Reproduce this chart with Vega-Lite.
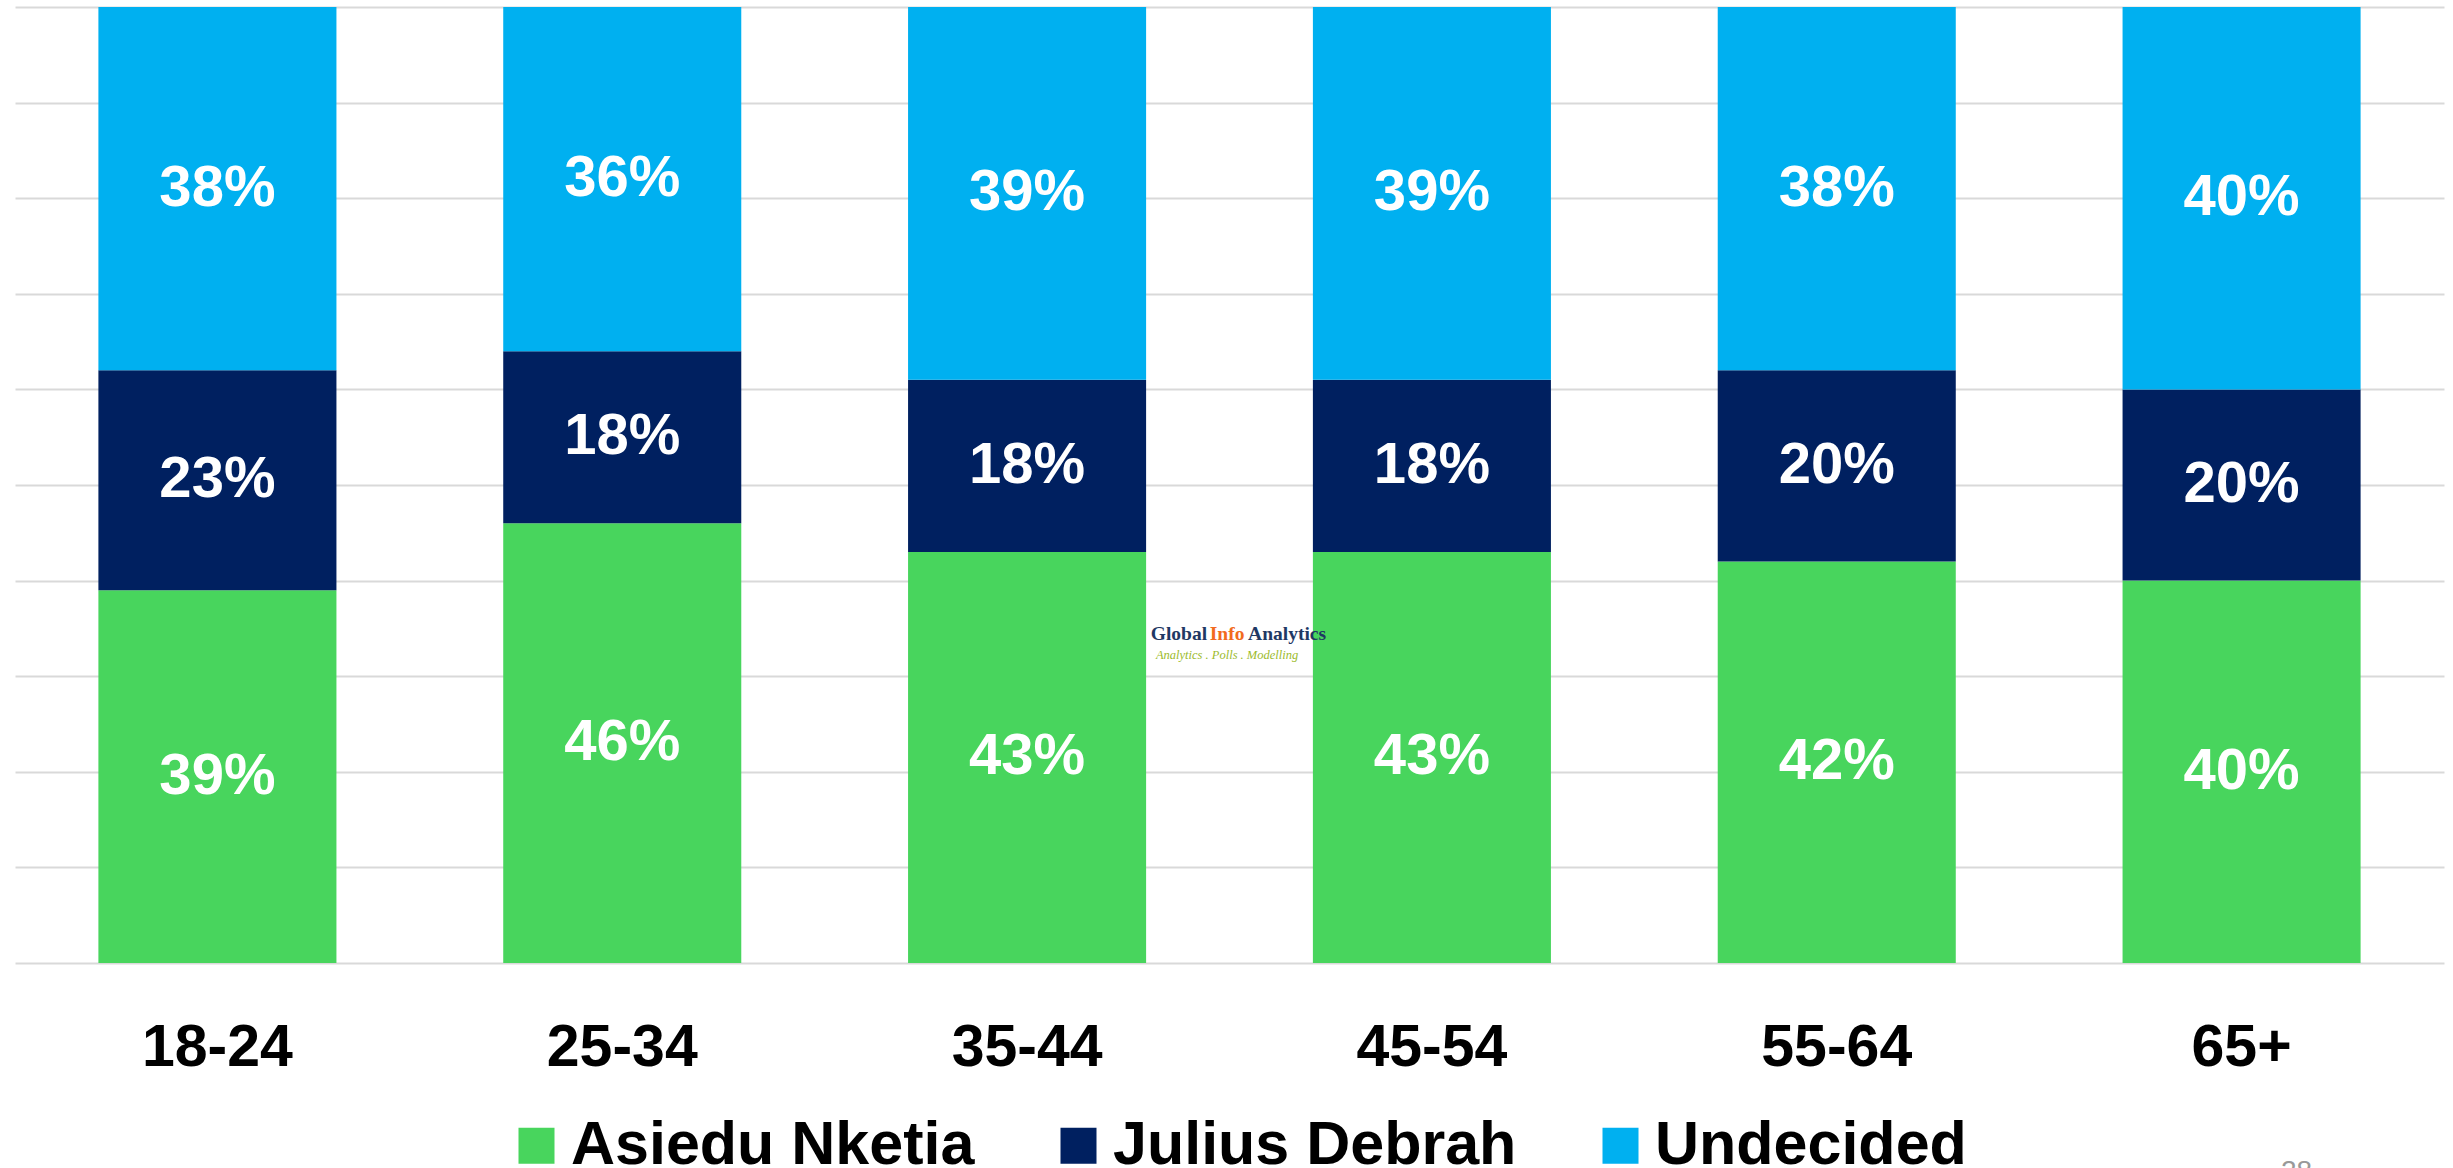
{
  "$schema": "https://vega.github.io/schema/vega-lite/v6.json",
  "width": 2429,
  "height": 956,
  "autosize": {"type": "none"},
  "padding": {"left": 15, "top": 7, "right": 9, "bottom": 205},
  "background": "white",
  "config": {"view": {"stroke": null}, "font": "Liberation Sans"},
  "data": {
    "values": [
      {"age": "18-24", "candidate": "Asiedu Nketia", "share": 0.39},
      {"age": "18-24", "candidate": "Julius Debrah", "share": 0.23},
      {"age": "18-24", "candidate": "Undecided", "share": 0.38},
      {"age": "25-34", "candidate": "Asiedu Nketia", "share": 0.46},
      {"age": "25-34", "candidate": "Julius Debrah", "share": 0.18},
      {"age": "25-34", "candidate": "Undecided", "share": 0.36},
      {"age": "35-44", "candidate": "Asiedu Nketia", "share": 0.43},
      {"age": "35-44", "candidate": "Julius Debrah", "share": 0.18},
      {"age": "35-44", "candidate": "Undecided", "share": 0.39},
      {"age": "45-54", "candidate": "Asiedu Nketia", "share": 0.43},
      {"age": "45-54", "candidate": "Julius Debrah", "share": 0.18},
      {"age": "45-54", "candidate": "Undecided", "share": 0.39},
      {"age": "55-64", "candidate": "Asiedu Nketia", "share": 0.42},
      {"age": "55-64", "candidate": "Julius Debrah", "share": 0.20},
      {"age": "55-64", "candidate": "Undecided", "share": 0.38},
      {"age": "65+", "candidate": "Asiedu Nketia", "share": 0.40},
      {"age": "65+", "candidate": "Julius Debrah", "share": 0.20},
      {"age": "65+", "candidate": "Undecided", "share": 0.40}
    ]
  },
  "layer": [
    {
      "mark": {"type": "bar"},
      "encoding": {
        "x": {
          "field": "age", "type": "nominal", "sort": null,
          "scale": {"paddingInner": 0.412, "paddingOuter": 0.206},
          "axis": {"title": null, "labelAngle": 0, "ticks": false, "domain": false, "labelFontSize": 59, "labelFontWeight": "bold", "labelColor": "black", "labelFont": "Liberation Sans", "labelPadding": 55}
        },
        "y": {
          "field": "share", "type": "quantitative", "stack": "zero",
          "scale": {"domain": [0, 1], "nice": false},
          "axis": {"title": null, "labels": false, "ticks": false, "domain": false, "grid": true, "gridColor": "#D9D9D9", "gridWidth": 2, "values": [0, 0.1, 0.2, 0.3, 0.4, 0.5, 0.6, 0.7, 0.8, 0.9, 1]}
        },
        "order": {"field": "candidate", "type": "nominal", "sort": "ascending"},
        "color": {
          "field": "candidate", "type": "nominal",
          "scale": {"domain": ["Asiedu Nketia", "Julius Debrah", "Undecided"], "range": ["#48D55D", "#002060", "#00B0F0"]},
          "legend": {"orient": "none", "legendX": 491, "legendY": 1108, "direction": "horizontal", "title": null, "symbolType": "square", "symbolSize": 1296, "symbolStrokeWidth": 0, "symbolOpacity": 1, "labelFontSize": 61, "labelFont": "Liberation Sans", "labelFontWeight": "bold", "labelColor": "black", "labelOffset": 4, "columnPadding": 73, "labelLimit": 1000}
        }
      }
    },
    {
      "mark": {"type": "text", "color": "white", "fontSize": 58, "fontWeight": "bold", "font": "Liberation Sans", "baseline": "middle", "align": "center"},
      "encoding": {
        "x": {"field": "age", "type": "nominal", "sort": null},
        "y": {"field": "share", "type": "quantitative", "stack": "zero", "bandPosition": 0.5},
        "order": {"field": "candidate", "type": "nominal", "sort": "ascending"},
        "detail": {"field": "candidate"},
        "text": {"field": "share", "type": "quantitative", "format": ".0%"}
      }
    },
    {
      "data": {"values": [{}]},
      "mark": {"type": "text", "text": "Global", "align": "right", "baseline": "middle", "font": "Liberation Serif", "fontWeight": "bold", "fontSize": 19.5, "color": "#1F3864", "dx": 180},
      "encoding": {"x": {"datum": "35-44"}, "y": {"datum": 0.344}}
    },
    {
      "data": {"values": [{}]},
      "mark": {"type": "text", "text": "Info", "align": "center", "baseline": "middle", "font": "Liberation Serif", "fontWeight": "bold", "fontSize": 19.5, "color": "#F26B1D", "dx": 200},
      "encoding": {"x": {"datum": "35-44"}, "y": {"datum": 0.344}}
    },
    {
      "data": {"values": [{}]},
      "mark": {"type": "text", "text": "Analytics", "align": "left", "baseline": "middle", "font": "Liberation Serif", "fontWeight": "bold", "fontSize": 19.5, "color": "#1F3864", "dx": 221},
      "encoding": {"x": {"datum": "35-44"}, "y": {"datum": 0.344}}
    },
    {
      "data": {"values": [{}]},
      "mark": {"type": "text", "text": "Analytics . Polls . Modelling", "align": "center", "baseline": "middle", "font": "Liberation Serif", "fontStyle": "italic", "fontSize": 12.5, "color": "#9CBB2C", "dx": 200},
      "encoding": {"x": {"datum": "35-44"}, "y": {"datum": 0.322}}
    },
    {
      "data": {"values": [{}]},
      "mark": {"type": "text", "text": "28", "align": "center", "baseline": "top", "font": "Liberation Sans", "fontSize": 28, "color": "#999999", "dx": 55},
      "encoding": {"x": {"datum": "65+"}, "y": {"datum": -0.204}}
    }
  ]
}
